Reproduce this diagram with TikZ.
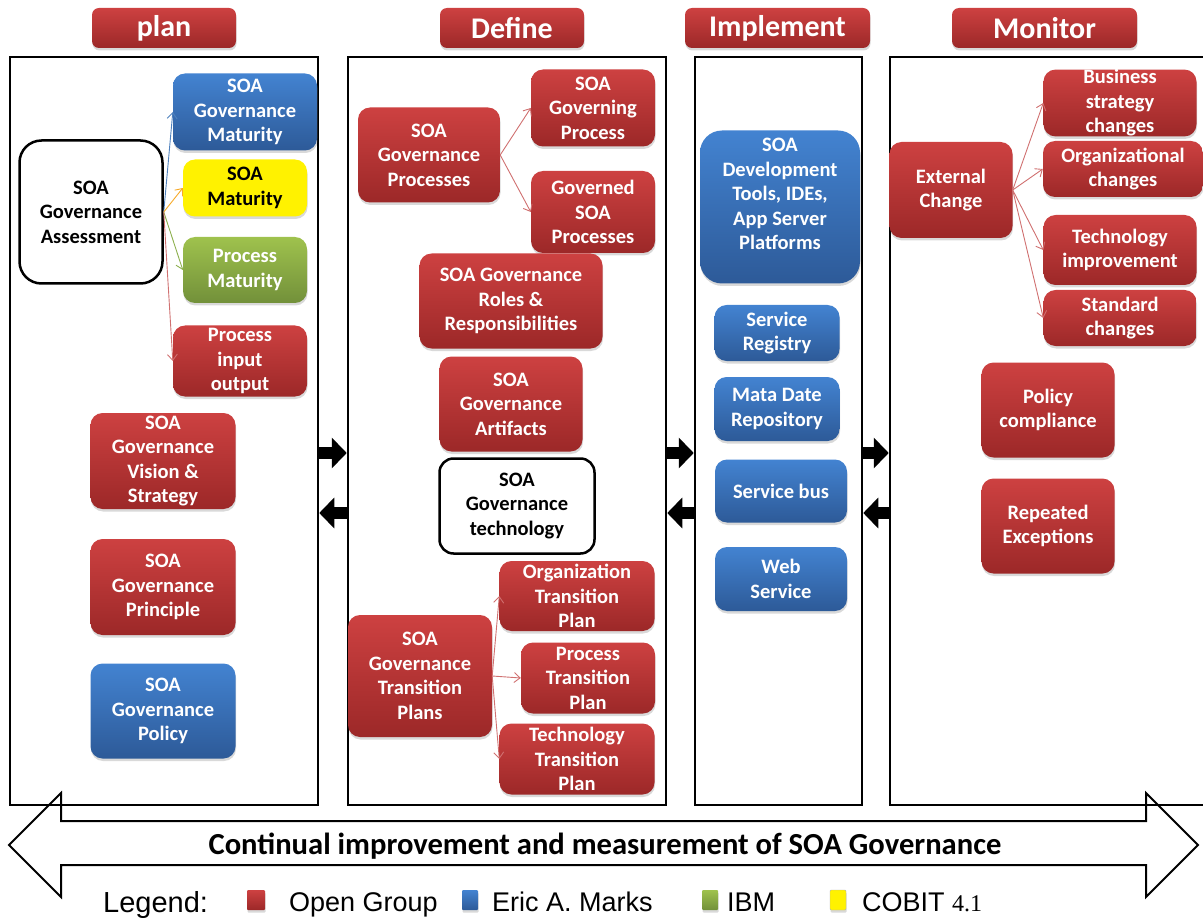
\documentclass[tikz,border=0pt]{standalone}
\usepackage{fontspec}
\setmainfont{Carlito}
\newfontfamily\legendsans{Liberation Sans}
\newfontfamily\legendserif{Liberation Serif}
\usetikzlibrary{arrows.meta,shadows}
\definecolor{boxred}{HTML}{CD4141}
\definecolor{boxreddark}{HTML}{9C2828}
\definecolor{boxblue}{HTML}{4383D1}
\definecolor{boxbluedark}{HTML}{2D5A98}
\definecolor{boxgreen}{HTML}{9FC24D}
\definecolor{boxgreendark}{HTML}{72903A}
\definecolor{linkred}{HTML}{D07070}
\definecolor{linkblue}{HTML}{4F81BD}
\definecolor{linkorange}{HTML}{F6A928}
\definecolor{linkgreen}{HTML}{8DB04E}
\newcommand{\boxfont}{\fontsize{20.5}{24.5}\selectfont\bfseries}
\newcommand{\hdrfont}{\fontsize{30}{34}\selectfont\bfseries}

\begin{document}
\begin{tikzpicture}[x=1pt,y=-1pt,
    card/.style={rectangle, rounded corners=12pt, inner sep=0pt, align=center,
      font=\boxfont, text=white,
      drop shadow={shadow xshift=0.5pt, shadow yshift=-2.5pt, opacity=0.3}},
    redbox/.style={card, top color=boxred, bottom color=boxreddark},
    bluebox/.style={card, top color=boxblue, bottom color=boxbluedark},
    greenbox/.style={card, top color=boxgreen, bottom color=boxgreendark},
    yellowbox/.style={card, fill=yellow, text=black},
    whitebox/.style={rectangle, rounded corners=18pt, draw, line width=2.5pt,
      fill=white, inner sep=0pt, align=center, font=\boxfont},
    colframe/.style={draw, line width=2.5pt, inner sep=0pt},
    link/.style={-{Straight Barb[length=6pt,width=10pt]}, line width=0.9pt},
    blockarrow/.style={line width=12pt, -{Triangle[length=15pt,width=30pt]}},
    legendtxt/.style={anchor=base west, inner sep=0pt, font=\legendsans\fontsize{27}{30}\selectfont}]
    \useasboundingbox (0,0) rectangle (1203,920);
    % Column frames
    \node[colframe, minimum width=308, minimum height=748] (planbox) at (164,431) {};
    \node[colframe, minimum width=318, minimum height=748] (defbox) at (507,431) {};
    \node[colframe, minimum width=167, minimum height=748] (implbox) at (778.5,431) {};
    \node[colframe, minimum width=325, minimum height=748] (monbox) at (1052.5,431) {};
    % Column headers
    \node[redbox, minimum width=144, minimum height=40, rounded corners=7pt, font=\hdrfont] (hplan) at (164,28) {plan};
    \node[redbox, minimum width=144, minimum height=40, rounded corners=7pt, font=\hdrfont] (hdef) at (512,28) {Define};
    \node[redbox, minimum width=185, minimum height=40, rounded corners=7pt, font=\hdrfont] (himpl) at (777.5,28) {Implement};
    \node[redbox, minimum width=185, minimum height=40, rounded corners=7pt, font=\hdrfont] (hmon) at (1044.5,28) {Monitor};

    % Plan
    \node[whitebox, minimum width=143, minimum height=143, rounded corners=22pt] (assess) at (91,212) {SOA\\Governance\\Assessment};
    \node[bluebox, minimum width=144, minimum height=77] (govmat) at (245,112) {SOA\\Governance\\Maturity};
    \node[yellowbox, minimum width=124, minimum height=57] (soamat) at (245,188) {SOA\\Maturity};
    \node[greenbox, minimum width=124, minimum height=66] (procmat) at (245,270) {Process\\Maturity};
    \node[redbox, minimum width=134, minimum height=71] (procio) at (240,361) {Process\\input\\output};
    \node[redbox, minimum width=145, minimum height=96] (vision) at (163,461) {SOA\\Governance\\Vision \&\\Strategy};
    \node[redbox, minimum width=145, minimum height=96] (principle) at (163,587) {SOA\\Governance\\Principle};
    \node[bluebox, minimum width=145, minimum height=95] (policy) at (163,711) {SOA\\Governance\\Policy};
    \draw[link, linkblue] (assess.east) -- (govmat.west);
    \draw[link, linkorange] (assess.east) -- (soamat.west);
    \draw[link, linkgreen] (assess.east) -- (procmat.west);
    \draw[link, linkred] (assess.east) -- (procio.west);

    % Define
    \node[redbox, minimum width=142, minimum height=95] (gproc) at (429,155) {SOA\\Governance\\Processes};
    \node[redbox, minimum width=124, minimum height=77] (governing) at (593,108) {SOA\\Governing\\Process};
    \node[redbox, minimum width=124, minimum height=82] (governed) at (593,212) {Governed\\SOA\\Processes};
    \node[redbox, minimum width=183, minimum height=95] (roles) at (511,301) {SOA Governance\\Roles \&\\Responsibilities};
    \node[redbox, minimum width=143, minimum height=95] (artif) at (511,404) {SOA\\Governance\\Artifacts};
    \node[whitebox, minimum width=155, minimum height=95, rounded corners=14pt] (tech) at (517,506) {SOA\\Governance\\technology};
    \node[redbox, minimum width=144, minimum height=122] (trans) at (420,676) {SOA\\Governance\\Transition\\Plans};
    \node[redbox, minimum width=155, minimum height=70] (orgtp) at (577,596) {Organization\\Transition\\Plan};
    \node[redbox, minimum width=134, minimum height=71] (proctp) at (588,678) {Process\\Transition\\Plan};
    \node[redbox, minimum width=155, minimum height=71] (techtp) at (577,759) {Technology\\Transition\\Plan};
    \draw[link, linkred] (gproc.east) -- (governing.west);
    \draw[link, linkred] (gproc.east) -- (governed.west);
    \draw[link, linkred] (trans.east) -- (orgtp.west);
    \draw[link, linkred] (trans.east) -- (proctp.west);
    \draw[link, linkred] (trans.east) -- (techtp.west);

    % Implement
    \node[bluebox, minimum width=160, minimum height=153, rounded corners=22pt, text depth=26pt] (devtools) at (780,207) {SOA\\Development\\Tools, IDEs,\\App Server\\Platforms};
    \node[bluebox, minimum width=125, minimum height=56] (registry) at (777,333) {Service\\Registry};
    \node[bluebox, minimum width=125, minimum height=64] (metadata) at (777,409) {Mata Date\\Repository};
    \node[bluebox, minimum width=132, minimum height=63] (bus) at (781,491) {Service bus};
    \node[bluebox, minimum width=132, minimum height=64] (websvc) at (781,579) {Web\\Service};

    % Monitor
    \node[redbox, minimum width=123, minimum height=96] (extchg) at (951,190) {External\\Change};
    \node[redbox, minimum width=153, minimum height=66] (bizchg) at (1120,103) {Business\\strategy\\changes};
    \node[redbox, minimum width=160, minimum height=56] (orgchg) at (1123,169) {Organizational\\changes};
    \node[redbox, minimum width=153, minimum height=70] (techimp) at (1120,250) {Technology\\improvement};
    \node[redbox, minimum width=153, minimum height=56] (stdchg) at (1120,318) {Standard\\changes};
    \node[redbox, minimum width=133, minimum height=95] (policycomp) at (1048,410) {Policy\\compliance};
    \node[redbox, minimum width=133, minimum height=95] (repexc) at (1048,526) {Repeated\\Exceptions};
    \draw[link, linkred] (extchg.east) -- (bizchg.west);
    \draw[link, linkred] (extchg.east) -- (orgchg.west);
    \draw[link, linkred] (extchg.east) -- (techimp.west);
    \draw[link, linkred] (extchg.east) -- (stdchg.west);

    % Hand-over arrows between the columns
    \coordinate (fwd) at (0,453);
    \coordinate (back) at (0,513);
    \draw[blockarrow] (planbox.east |- fwd) -- (defbox.west |- fwd);
    \draw[blockarrow] (defbox.west |- back) -- (planbox.east |- back);
    \draw[blockarrow] (defbox.east |- fwd) -- (implbox.west |- fwd);
    \draw[blockarrow] (implbox.west |- back) -- (defbox.east |- back);
    \draw[blockarrow] (implbox.east |- fwd) -- (monbox.west |- fwd);
    \draw[blockarrow] (monbox.west |- back) -- (implbox.east |- back);

    % Improvement loop
    \draw[line width=2pt, line join=miter] (9,845) -- (61,793) -- (61,821) -- (1146,821)
      -- (1146,793) -- (1198,845) -- (1146,897) -- (1146,865) -- (61,865) -- (61,897) -- cycle;
    \node[font=\fontsize{30.6}{34}\selectfont\bfseries] (loop) at (605,846) {Continual improvement and measurement of SOA Governance};

    % Legend
    \node[legendtxt, font=\legendsans\fontsize{29}{30}\selectfont] (lgd) at (103,912) {Legend:};
    \node[redbox, minimum width=18, minimum height=20, rounded corners=1pt] (keyred) at (256,900) {};
    \node[legendtxt] (lopen) at (289,911) {Open Group};
    \node[bluebox, minimum width=16, minimum height=20, rounded corners=1pt] (keyblue) at (470,900) {};
    \node[legendtxt] (lmarks) at (492,911) {Eric A. Marks};
    \node[greenbox, minimum width=16, minimum height=20, rounded corners=1pt] (keygreen) at (710,900) {};
    \node[legendtxt] (libm) at (727,911) {IBM};
    \node[yellowbox, draw=black!30, minimum width=16, minimum height=20, rounded corners=1pt] (keyyellow) at (838,900) {};
    \node[legendtxt] (lcobit) at (862,911) {COBIT {\legendserif\fontsize{24}{28}\selectfont 4.1}};
\end{tikzpicture}
\end{document}
